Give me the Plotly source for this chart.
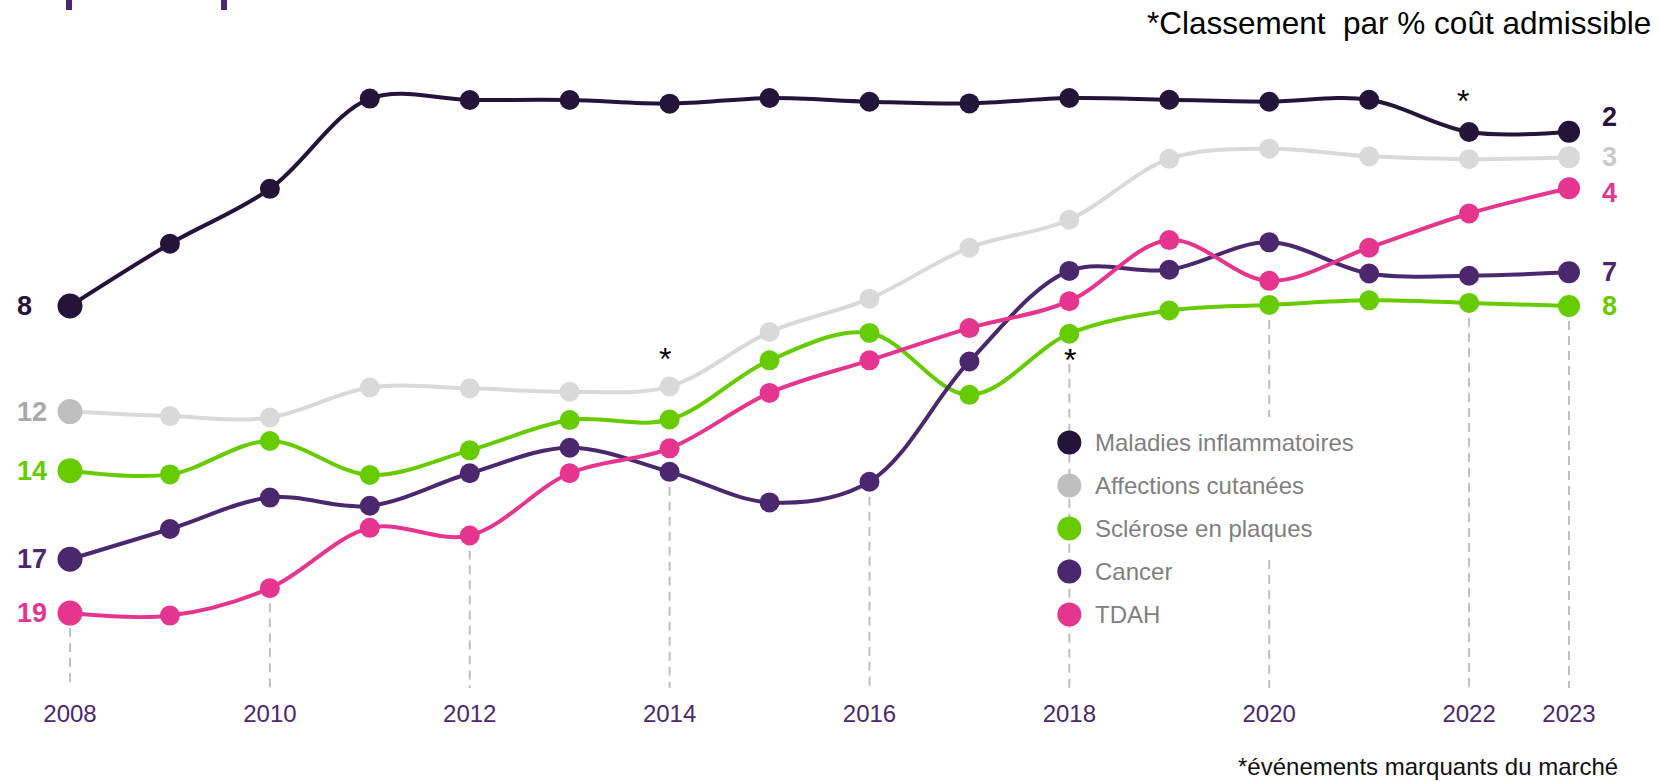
import plotly.graph_objects as go

# ---------------- data ----------------
years = list(range(2008, 2024))
series_names = ["Maladies inflammatoires", "Affections cutanées", "Sclérose en plaques", "Cancer", "TDAH"]
maladies = [8.16, 5.96, 4.02, 0.83, 0.88, 0.88, 1.01, 0.81, 0.94, 1.00, 0.81, 0.87, 0.94, 0.87, 2.01, 2.00]
affections = [11.89, 12.05, 12.10, 11.04, 11.07, 11.19, 11.00, 9.08, 7.90, 6.10, 5.11, 2.96, 2.60, 2.87, 2.97, 2.90]
sclerose = [13.98, 14.11, 12.93, 14.13, 13.26, 12.19, 12.17, 10.08, 9.11, 11.30, 9.14, 8.32, 8.12, 7.96, 8.05, 8.16]
cancer = [17.11, 16.04, 14.93, 15.22, 14.07, 13.17, 14.02, 15.10, 14.37, 10.12, 6.92, 6.88, 5.91, 7.01, 7.09, 6.97]
tdah = [19.01, 19.10, 18.13, 16.00, 16.27, 14.07, 13.19, 11.23, 10.08, 8.94, 7.99, 5.83, 7.27, 6.10, 4.89, 4.00]
start_ranks = [8, 12, 14, 17, 19]
end_ranks = [2, 3, 8, 7, 4]
tick_years = [2008, 2010, 2012, 2014, 2016, 2018, 2020, 2022, 2023]
event_years = [2014, 2018, 2022]
event_series = [1, 2, 0]

# ---------------- style ----------------
FONT = "Liberation Sans, Arial, Helvetica, sans-serif"
DARK = "#24143a"
GREY = "#d9d9d9"
GREY_FIRST = "#bfbfbf"
GREEN = "#66cc00"
PURPLE = "#4b286d"
PINK = "#e6358f"
line_colors = [DARK, GREY, GREEN, PURPLE, PINK]
legend_colors = [DARK, GREY_FIRST, GREEN, PURPLE, PINK]
start_label_colors = [DARK, "#a8a8a8", GREEN, PURPLE, PINK]
end_label_colors = [DARK, "#c9c9c9", GREEN, PURPLE, PINK]
end_label_shift = [15, 0, 0, 0, -5]
event_shift = [27, -26, 31]
event_xshift = [-5, 1, -6]

W, H = 1659, 781
PLOT_H = 692
Y_RANGE = [21.80, -2.654]
X_RANGE = [2007.2995, 2023.9006]
DASH_BOTTOM = 21.66

all_series = [maladies, affections, sclerose, cancer, tdah]

fig = go.Figure()

# dashed vertical guide lines (from lowest point of the year down to baseline)
dx, dy = [], []
for yr in tick_years:
    i = years.index(yr)
    low = max(s[i] for s in all_series)
    dx += [yr, yr, None]
    dy += [low, DASH_BOTTOM, None]
fig.add_trace(go.Scatter(x=dx, y=dy, mode="lines", showlegend=False, hoverinfo="skip",
                         line=dict(color="#c0c0c0", width=2, dash="9px,6px")))

n = len(years)
sizes = [25] + [20] * (n - 2) + [22]
for k, (name, vals) in enumerate(zip(series_names, all_series)):
    mcol = [line_colors[k]] * n
    if k == 1:
        mcol[0] = GREY_FIRST
    fig.add_trace(go.Scatter(
        x=years, y=vals, name=name, mode="lines+markers", showlegend=False,
        line=dict(color=line_colors[k], width=4, shape="spline", smoothing=1),
        marker=dict(color=mcol, size=sizes, opacity=1, line=dict(width=0)),
    ))

annotations = []
# start / end rank labels
for k, vals in enumerate(all_series):
    annotations.append(dict(x=15 / W, xref="paper", xanchor="left", y=vals[0], yref="y", yanchor="middle",
                            text=str(start_ranks[k]), showarrow=False,
                            font=dict(family=FONT, size=27, color=start_label_colors[k], weight="bold")))
    annotations.append(dict(x=1600 / W, xref="paper", xanchor="left", y=vals[-1], yref="y", yanchor="middle",
                            yshift=end_label_shift[k],
                            text=str(end_ranks[k]), showarrow=False,
                            font=dict(family=FONT, size=27, color=end_label_colors[k], weight="bold")))

# event asterisks
for j, yr in enumerate(event_years):
    s = all_series[event_series[j]]
    annotations.append(dict(x=yr, xref="x", y=s[years.index(yr)], yref="y", yshift=event_shift[j],
                            xshift=event_xshift[j], text="*", showarrow=False,
                            font=dict(family=FONT, size=32, color="#000000")))

# manual legend
shapes = []
LEG_X = 2018
leg_y0 = 1 - 442.6 / PLOT_H
leg_step = 43 / PLOT_H
# white box interrupting 2020 guide behind legend text
shapes.append(dict(type="rect", xref="x", yref="paper", x0=2019.7, x1=2020.3,
                   y0=1 - 556 / PLOT_H, y1=1 - 417 / PLOT_H, fillcolor="white",
                   line=dict(width=0), layer="above"))
for k, name in enumerate(series_names):
    yy = leg_y0 - k * leg_step
    shapes.append(dict(type="circle", xref="x", yref="paper", xsizemode="pixel", ysizemode="pixel",
                       xanchor=LEG_X, yanchor=yy, x0=-12, x1=12, y0=-12, y1=12,
                       fillcolor=legend_colors[k], line=dict(width=0), layer="above"))
    annotations.append(dict(x=LEG_X, xref="x", xshift=24, xanchor="left", y=yy, yref="paper",
                            yanchor="middle", text=name, showarrow=False,
                            font=dict(family=FONT, size=24, color="#808080")))

# texts
annotations.append(dict(x=1653 / W, xref="paper", xanchor="right", y=1 - 23 / PLOT_H, yref="paper",
                        yanchor="middle", text="*Classement\u00a0 par % coût admissible", showarrow=False,
                        font=dict(family=FONT, size=31.5, color="#000000")))
annotations.append(dict(x=1620 / W, xref="paper", xanchor="right", y=1 - 782 / PLOT_H, yref="paper",
                        yanchor="bottom", text="*événements marquants du marché", showarrow=False,
                        font=dict(family=FONT, size=24, color="#111111")))

# top-left decorative bars
for x0 in (66, 221):
    shapes.append(dict(type="rect", xref="paper", yref="paper", x0=x0 / W, x1=(x0 + 6) / W,
                       y0=1 - 10 / PLOT_H, y1=1.0, fillcolor=PURPLE, line=dict(width=0), layer="above"))

fig.update_layout(
    width=W, height=H,
    margin=dict(l=0, r=0, t=0, b=H - PLOT_H, pad=0),
    paper_bgcolor="white", plot_bgcolor="white",
    showlegend=False,
    xaxis=dict(range=X_RANGE, tickvals=tick_years, ticktext=[str(y) for y in tick_years],
               tickfont=dict(family=FONT, size=24, color=PURPLE), showgrid=False, zeroline=False,
               showline=False, ticks="", fixedrange=True, ticklabelstandoff=5),
    yaxis=dict(range=Y_RANGE, visible=False, showgrid=False, zeroline=False, fixedrange=True),
    annotations=annotations,
    shapes=shapes,
    hovermode=False,
)

fig.write_html("out.html", config={"displayModeBar": False},
               post_script="document.body.style.margin='0';document.body.style.padding='0';"
                           "document.body.style.overflow='hidden';")
